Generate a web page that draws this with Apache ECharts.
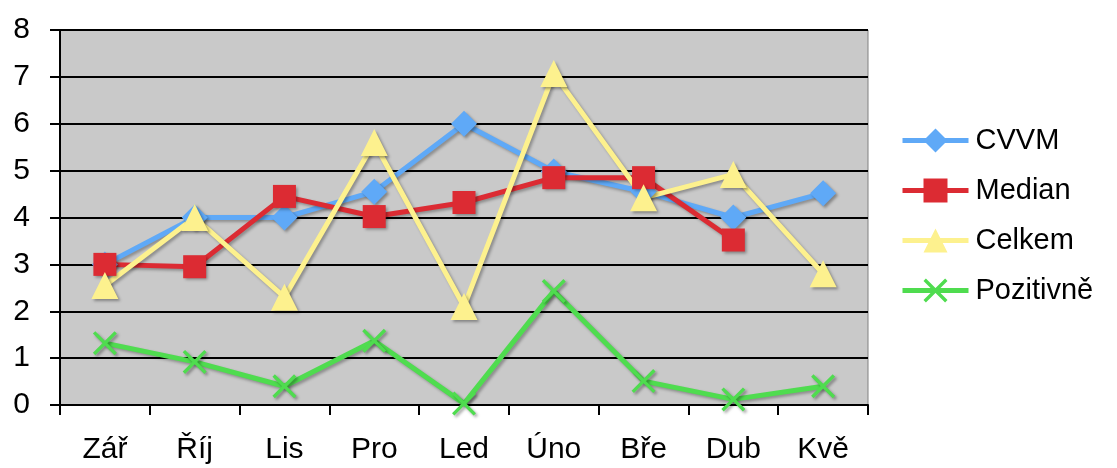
<!DOCTYPE html>
<html>
<head>
<meta charset="utf-8">
<script src="https://cdn.jsdelivr.net/npm/echarts@6/dist/echarts.min.js"></script>
<style>
  html, body { margin: 0; padding: 0; background: #fff; }
  #chart { width: 1117px; height: 468px; }
</style>
</head>
<body>
<div id="chart"></div>
<script>
const months = ["Zář", "Říj", "Lis", "Pro", "Led", "Úno", "Bře", "Dub", "Kvě"];
const cvvm = [3.0, 4.0, 4.0, 4.55, 6.0, 4.98, 4.55, 4.0, 4.52];
const median = [3.0, 2.95, 4.45, 4.02, 4.32, 4.85, 4.85, 3.52, null];
const celkem = [2.55, 4.0, 2.3, 5.6, 2.1, 7.07, 4.42, 4.92, 2.8];
const pozitivne = [1.32, 0.92, 0.4, 1.37, 0.03, 2.43, 0.51, 0.12, 0.4];

const crossPath = "path://M0,1L1,0L10,9L9,10Z M9,0L10,1L1,10L0,9Z";

const chart = echarts.init(document.getElementById("chart"));

// lines with a light drop shadow, like the original
function lineSeries(name, data, color, symbol, size) {
  return {
    name: name,
    type: "line",
    data: data,
    symbol: symbol,
    symbolSize: size,
    connectNulls: false,
    itemStyle: { color: color, shadowColor: "rgba(0,0,0,0.35)", shadowBlur: 3, shadowOffsetX: 2, shadowOffsetY: 2 },
    lineStyle: { color: color, width: 5, shadowColor: "rgba(0,0,0,0.3)", shadowBlur: 3, shadowOffsetX: 2, shadowOffsetY: 2 },
    emphasis: { disabled: true },
  };
}

const option = {
  animation: false,
  grid: {
    left: 60,
    right: 249,
    top: 30,
    bottom: 63,
    show: true,
    backgroundColor: "#c9c9c9",
    borderColor: "#808080",
    borderWidth: 1,
  },
  legend: {
    orient: "vertical",
    left: 895,
    top: 121,
    itemWidth: 66,
    itemHeight: 30,
    itemGap: 21,
    lineStyle: { width: 5 },
    textStyle: { fontSize: 29, color: "#000", fontFamily: "Liberation Sans", padding: [0, 0, 0, 2] },
    data: ["CVVM", "Median", "Celkem", "Pozitivně"],
  },
  xAxis: {
    type: "category",
    data: months,
    boundaryGap: true,
    axisLine: { lineStyle: { color: "#000", width: 2 } },
    axisTick: { show: true, length: 10, interval: 0, lineStyle: { color: "#000", width: 2 } },
    axisLabel: { fontSize: 30, color: "#000", margin: 30, fontFamily: "Liberation Sans" },
  },
  yAxis: {
    type: "value",
    min: 0,
    max: 8,
    interval: 1,
    axisLine: { show: true, lineStyle: { color: "#000", width: 2 } },
    axisTick: { show: true, length: 10, lineStyle: { color: "#000", width: 2 } },
    axisLabel: { fontSize: 30, color: "#000", margin: 30, fontFamily: "Liberation Sans" },
    splitLine: { show: true, lineStyle: { color: "#000", width: 2 } },
  },
  series: [
    lineSeries("CVVM", cvvm, "#5fa9f7", "diamond", 26),
    lineSeries("Median", median, "#dc2b33", "rect", 23),
    lineSeries("Celkem", celkem, "#fdf18e", "triangle", 27),
    lineSeries("Pozitivně", pozitivne, "#4fdc4f", crossPath, 24),
  ],
};

chart.setOption(option);
</script>
</body>
</html>
